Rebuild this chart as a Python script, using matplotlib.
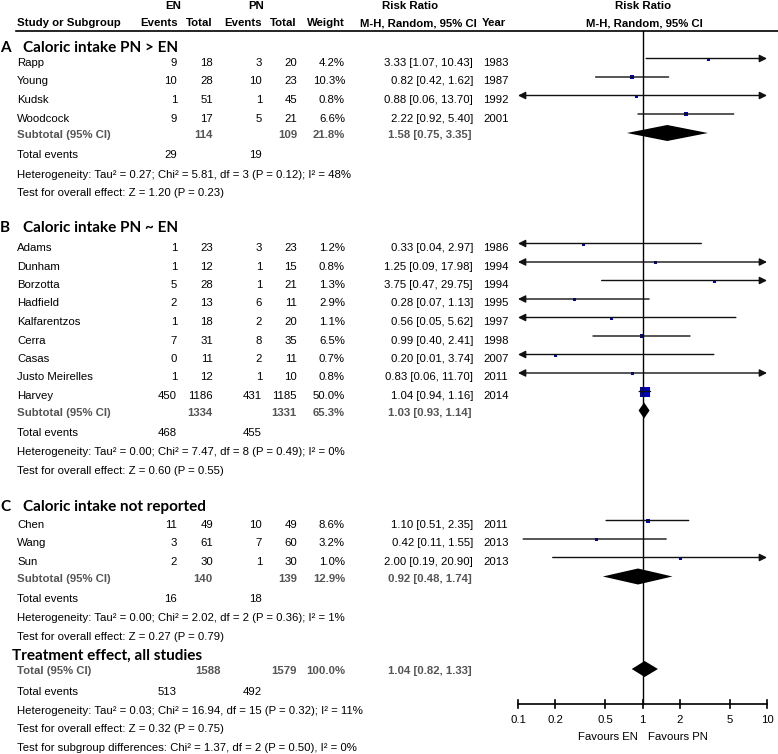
import numpy as np
import matplotlib.pyplot as plt

# ---- data ----
group_letters = ['A', 'B', 'C']
group_titles = ['Caloric intake PN > EN', 'Caloric intake PN ~ EN', 'Caloric intake not reported']

study_names = ['Rapp', 'Young', 'Kudsk', 'Woodcock',
               'Adams', 'Dunham', 'Borzotta', 'Hadfield', 'Kalfarentzos', 'Cerra', 'Casas',
               'Justo Meirelles', 'Harvey',
               'Chen', 'Wang', 'Sun']
study_group = [0, 0, 0, 0, 1, 1, 1, 1, 1, 1, 1, 1, 1, 2, 2, 2]
en_events = [9, 10, 1, 9, 1, 1, 5, 2, 1, 7, 0, 1, 450, 11, 3, 2]
en_total = [18, 28, 51, 17, 23, 12, 28, 13, 18, 31, 11, 12, 1186, 49, 61, 30]
pn_events = [3, 10, 1, 5, 3, 1, 1, 6, 2, 8, 2, 1, 431, 10, 7, 1]
pn_total = [20, 23, 45, 21, 23, 15, 21, 11, 20, 35, 11, 10, 1185, 49, 60, 30]
weight = [4.2, 10.3, 0.8, 6.6, 1.2, 0.8, 1.3, 2.9, 1.1, 6.5, 0.7, 0.8, 50.0, 8.6, 3.2, 1.0]
rr = [3.33, 0.82, 0.88, 2.22, 0.33, 1.25, 3.75, 0.28, 0.56, 0.99, 0.20, 0.83, 1.04, 1.10, 0.42, 2.00]
rr_lo = [1.07, 0.42, 0.06, 0.92, 0.04, 0.09, 0.47, 0.07, 0.05, 0.40, 0.01, 0.06, 0.94, 0.51, 0.11, 0.19]
rr_hi = [10.43, 1.62, 13.70, 5.40, 2.97, 17.98, 29.75, 1.13, 5.62, 2.41, 3.74, 11.70, 1.16, 2.35, 1.55, 20.90]
years = [1983, 1987, 1992, 2001, 1986, 1994, 1994, 1995, 1997, 1998, 2007, 2011, 2014, 2011, 2013, 2013]

sub_en_total = [114, 1334, 140]
sub_pn_total = [109, 1331, 139]
sub_weight = [21.8, 65.3, 12.9]
sub_rr = [1.58, 1.03, 0.92]
sub_lo = [0.75, 0.93, 0.48]
sub_hi = [3.35, 1.14, 1.74]
sub_en_events = [29, 468, 16]
sub_pn_events = [19, 455, 18]
sub_het = ['Heterogeneity: Tau² = 0.27; Chi² = 5.81, df = 3 (P = 0.12); I² = 48%',
           'Heterogeneity: Tau² = 0.00; Chi² = 7.47, df = 8 (P = 0.49); I² = 0%',
           'Heterogeneity: Tau² = 0.00; Chi² = 2.02, df = 2 (P = 0.36); I² = 1%']
sub_z = ['Test for overall effect: Z = 1.20 (P = 0.23)',
         'Test for overall effect: Z = 0.60 (P = 0.55)',
         'Test for overall effect: Z = 0.27 (P = 0.79)']

tot_en_total, tot_pn_total, tot_weight = 1588, 1579, 100.0
tot_rr, tot_lo, tot_hi = 1.04, 0.82, 1.33
tot_en_events, tot_pn_events = 513, 492
tot_het = 'Heterogeneity: Tau² = 0.03; Chi² = 16.94, df = 15 (P = 0.32); I² = 11%'
tot_z = 'Test for overall effect: Z = 0.32 (P = 0.75)'
tot_sub = 'Test for subgroup differences: Chi² = 1.37, df = 2 (P = 0.50), I² = 0%'

ticks = [0.1, 0.2, 0.5, 1, 2, 5, 10]
tick_labels = ['0.1', '0.2', '0.5', '1', '2', '5', '10']

# ---- layout (pixels) ----
W, H = 778, 754
FS = 8.2
BODY = 'Liberation Sans'
TITLE = 'Lato'
GRAY = '#555555'
BLUE = '#0000c8'
X_EV1, X_TO1, X_EV2, X_TO2, X_WT, X_RR, X_YR = 177, 213, 262, 297, 345, 473, 483

title_y = [48, 228, 507]
first_y = [63, 248, 525]
STEP = 18.5

fig = plt.figure(figsize=(W / 100, H / 100), dpi=100)
ax = fig.add_axes([0, 0, 1, 1])
ax.set_xlim(0, W)
ax.set_ylim(H, 0)
ax.axis('off')

X0, X1 = 518, 767
fp = fig.add_axes([X0 / W, 0, (X1 - X0) / W, 1])
fp.set_xscale('log')
fp.set_xlim(0.1, 10)
fp.set_ylim(H, 0)
fp.axis('off')


def txt(x, y, s, ha='left', bold=False, color='black', size=FS, family=BODY):
    ax.text(x, y, s, ha=ha, va='center', fontsize=size, color=color,
            fontweight='bold' if bold else 'normal', family=family)


def ci_line(lo, hi, y):
    a, b = max(lo, 0.1), min(hi, 10)
    if lo < 0.1 and hi > 10:
        style = '<|-|>'
    elif lo < 0.1:
        style = '<|-'
    elif hi > 10:
        style = '-|>'
    else:
        style = '-'
    fp.annotate('', xy=(b, y), xytext=(a, y),
                arrowprops=dict(arrowstyle=style, lw=1, color='#111111',
                                shrinkA=0, shrinkB=0, mutation_scale=11))


def diamond(est, lo, hi, y):
    fp.fill([lo, est, hi, est], [y, y - 8, y, y + 8], color='black', lw=0)


def fmt_rr(e, l, h):
    return f'{e:.2f} [{l:.2f}, {h:.2f}]'


# header
txt(173, 6, 'EN', ha='center', bold=True)
txt(256, 6, 'PN', ha='center', bold=True)
txt(410, 6, 'Risk Ratio', ha='center', bold=True)
txt(643, 6, 'Risk Ratio', ha='center', bold=True)
txt(17, 23, 'Study or Subgroup', bold=True)
txt(178, 23, 'Events', ha='right', bold=True)
txt(213, 23, 'Total', ha='right', bold=True)
txt(262, 23, 'Events', ha='right', bold=True)
txt(297, 23, 'Total', ha='right', bold=True)
txt(345, 23, 'Weight', ha='right', bold=True)
txt(418, 23, 'M-H, Random, 95% CI', ha='center', bold=True)
txt(482, 23, 'Year', bold=True)
txt(644, 23, 'M-H, Random, 95% CI', ha='center', bold=True)
ax.plot([16, W], [31, 31], color='black', lw=1.2)

# subgroups
for g in range(3):
    txt(0, title_y[g], group_letters[g], bold=True, size=11, family=TITLE)
    txt(23, title_y[g], group_titles[g], bold=True, size=11, family=TITLE)
    idx = [i for i, s in enumerate(study_group) if s == g]
    y = first_y[g]
    for i in idx:
        txt(17, y, study_names[i])
        txt(X_EV1, y, str(en_events[i]), ha='right')
        txt(X_TO1, y, str(en_total[i]), ha='right')
        txt(X_EV2, y, str(pn_events[i]), ha='right')
        txt(X_TO2, y, str(pn_total[i]), ha='right')
        txt(X_WT, y, f'{weight[i]:.1f}%', ha='right')
        txt(X_RR, y, fmt_rr(rr[i], rr_lo[i], rr_hi[i]), ha='right')
        txt(X_YR, y, str(years[i]))
        ci_line(rr_lo[i], rr_hi[i], y - 4.5)
        side = max(10 * np.sqrt(weight[i] / 50.0), 3.0)
        fp.plot(rr[i], y - 4.5, marker='s', ms=side * 0.72, color=BLUE, mec=BLUE, mew=0)
        y += STEP
    y = y - STEP + 16.5
    txt(17, y, 'Subtotal (95% CI)', bold=True, color=GRAY)
    txt(X_TO1, y, str(sub_en_total[g]), ha='right', bold=True, color=GRAY)
    txt(X_TO2, y, str(sub_pn_total[g]), ha='right', bold=True, color=GRAY)
    txt(X_WT, y, f'{sub_weight[g]:.1f}%', ha='right', bold=True, color=GRAY)
    txt(X_RR - 1, y, fmt_rr(sub_rr[g], sub_lo[g], sub_hi[g]), ha='right', bold=True, color=GRAY)
    diamond(sub_rr[g], sub_lo[g], sub_hi[g], y - 2)
    y += 20.5
    txt(17, y, 'Total events')
    txt(X_EV1, y, str(sub_en_events[g]), ha='right')
    txt(X_EV2, y, str(sub_pn_events[g]), ha='right')
    y += 19
    txt(17, y, sub_het[g])
    y += 19
    txt(17, y, sub_z[g])

# overall
txt(12, 656, 'Treatment effect, all studies', bold=True, size=11, family=TITLE)
txt(17, 671, 'Total (95% CI)', bold=True, color=GRAY)
txt(221, 671, str(tot_en_total), ha='right', bold=True, color=GRAY)
txt(X_TO2, 671, str(tot_pn_total), ha='right', bold=True, color=GRAY)
txt(X_WT, 671, f'{tot_weight:.1f}%', ha='right', bold=True, color=GRAY)
txt(X_RR - 1, 671, fmt_rr(tot_rr, tot_lo, tot_hi), ha='right', bold=True, color=GRAY)
diamond(tot_rr, tot_lo, tot_hi, 669)
txt(17, 692, 'Total events')
txt(X_EV1, 692, str(tot_en_events), ha='right')
txt(X_EV2, 692, str(tot_pn_events), ha='right')
txt(17, 711, tot_het)
txt(17, 729, tot_z)
txt(17, 748, tot_sub)

# forest axis
fp.plot([1, 1], [31, 704], color='black', lw=1, clip_on=False)
fp.plot([0.1, 10], [704, 704], color='black', lw=1.2, clip_on=False)
for t, lab in zip(ticks, tick_labels):
    fp.plot([t, t], [700, 708], color='black', lw=1.2, clip_on=False)
    fp.text(t, 720, lab, ha='center', va='center', fontsize=FS, family=BODY)
txt(638, 737, 'Favours EN', ha='right')
txt(648, 737, 'Favours PN')

fig.savefig('out.png', dpi=100)
